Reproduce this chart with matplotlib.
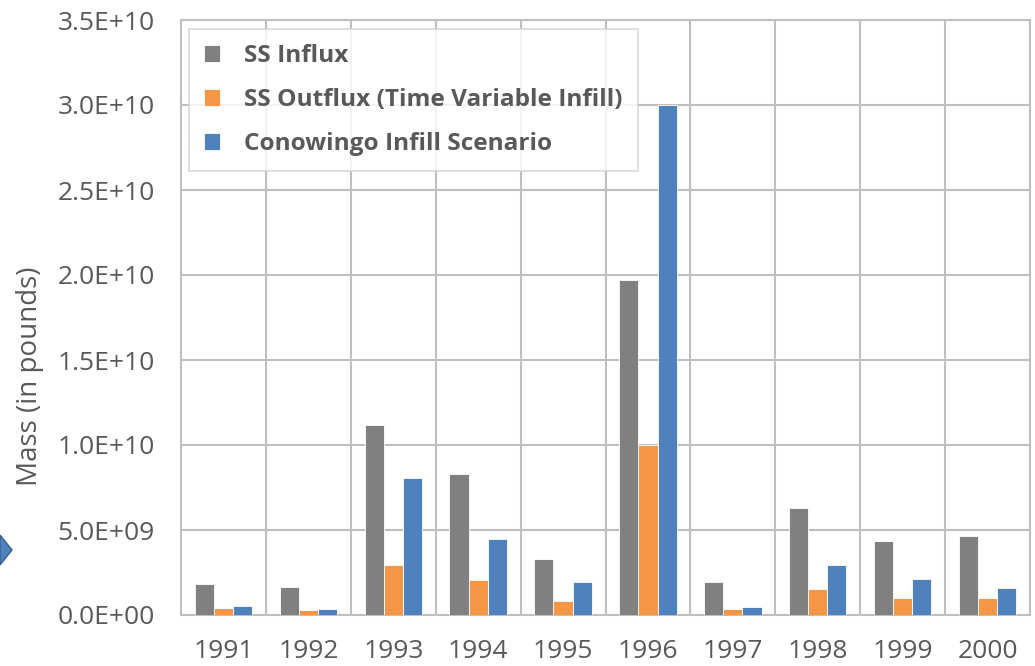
import matplotlib
matplotlib.use("Agg")
import matplotlib.pyplot as plt
import matplotlib.patches as patches
import numpy as np
from matplotlib.ticker import FuncFormatter, MultipleLocator

years = ["1991", "1992", "1993", "1994", "1995", "1996", "1997", "1998", "1999", "2000"]
ss_influx = [1.80e9, 1.66e9, 1.12e10, 8.28e9, 3.31e9, 1.972e10, 1.96e9, 6.30e9, 4.38e9, 4.65e9]
ss_outflux = [0.39e9, 0.31e9, 2.94e9, 2.04e9, 0.84e9, 1.00e10, 0.38e9, 1.52e9, 1.00e9, 1.00e9]
infill_scenario = [0.53e9, 0.37e9, 8.06e9, 4.45e9, 1.96e9, 3.00e10, 0.45e9, 2.93e9, 2.10e9, 1.60e9]
series_names = ["SS Influx", "SS Outflux (Time Variable Infill)", "Conowingo Infill Scenario"]
colors = ["#808080", "#F79646", "#4F81BD"]

W, H = 1035, 666
plt.rcParams['font.family'] = ['Open Sans', 'DejaVu Sans']
text_col = "#595959"
grid_col = "#BFBFBF"

fig = plt.figure(figsize=(W / 100, H / 100), dpi=100)
ax = fig.add_axes([181 / W, (H - 615) / H, (1030 - 181) / W, (615 - 20) / H])

x = np.arange(len(years))
bw = 0.225
for i, (vals, name, c) in enumerate(zip([ss_influx, ss_outflux, infill_scenario], series_names, colors)):
    ax.bar(x + (i - 1) * bw, vals, width=bw, color=c, edgecolor="white", linewidth=0.6,
           label=name, zorder=3)

ax.set_xlim(-0.5, len(years) - 0.5)
ax.set_ylim(0, 3.5e10)
ax.yaxis.set_major_locator(MultipleLocator(5e9))
ax.yaxis.set_major_formatter(FuncFormatter(lambda v, p: "{:.1E}".format(v)))
ax.set_xticks(x)
ax.set_xticklabels(years)
ax.set_xticks(np.arange(-0.5, len(years)), minor=True)
ax.grid(True, axis="y", which="major", color=grid_col, linewidth=1.5, zorder=0)
ax.grid(True, axis="x", which="minor", color=grid_col, linewidth=1.5, zorder=0)
ax.tick_params(axis="both", which="both", length=0, labelsize=19, colors=text_col)
ax.tick_params(axis="y", pad=19)
ax.tick_params(axis="x", pad=17)
for s in ax.spines.values():
    s.set_color(grid_col)
    s.set_linewidth(1.5)

# axis title sits a bit below the axes centre in the original
fig.text(30 / W, 1 - 376 / H, "Mass (in pounds)", rotation=90, ha="center", va="center",
         fontsize=20, color=text_col)

leg = ax.legend(loc="upper left", bbox_to_anchor=(8 / 849, 1 - 9 / 595), frameon=True,
                fancybox=False, prop={"weight": "bold", "size": 17.6}, labelcolor=text_col,
                handlelength=0.65, handleheight=0.65, handletextpad=1.0, labelspacing=0.82,
                borderpad=0.62, borderaxespad=0)
leg.get_frame().set_edgecolor("#D0D0D0")
leg.get_frame().set_linewidth(1.2)
leg.set_zorder(5)

# slide chevron peeking in from the left edge
pts = [(0, 535), (12, 550), (0, 565)]
chev = patches.Polygon([(px / W, 1 - py / H) for px, py in pts], closed=True,
                       transform=fig.transFigure, facecolor="#4F81BD", edgecolor="#385D8A",
                       linewidth=1)
fig.patches.append(chev)

fig.savefig("out.png", dpi=100)
